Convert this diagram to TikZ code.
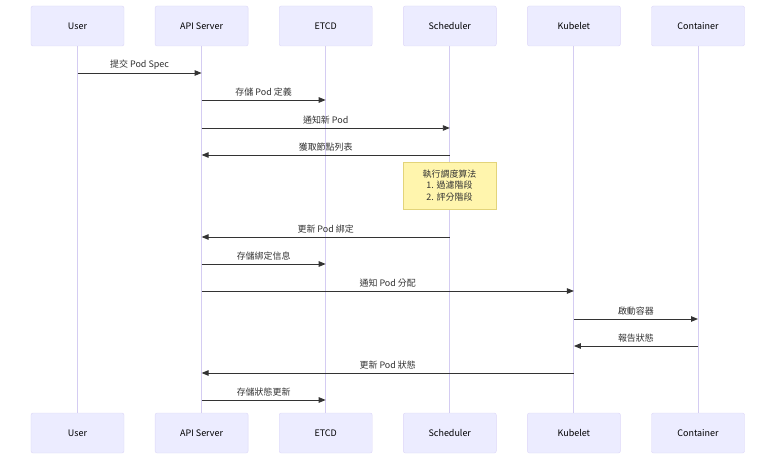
\documentclass[tikz,border=0pt]{standalone}
\usepackage{fontspec}
\setmainfont{Noto Sans CJK TC}
\usetikzlibrary{arrows.meta}

\definecolor{actorfill}{HTML}{ECECFF}
\definecolor{actorline}{HTML}{DCD6F7}
\definecolor{lifeline}{HTML}{D4CCF2}
\definecolor{notefill}{HTML}{FFF5AD}
\definecolor{noteline}{HTML}{E3D47A}
\definecolor{msgcol}{HTML}{333333}

\tikzset{
  actor/.style={draw=actorline, fill=actorfill, rounded corners=2bp,
    minimum width=93bp, minimum height=40bp, font=\fontsize{9}{10}\selectfont},
  lifeline/.style={draw=lifeline, line width=1bp},
  msg/.style={draw=msgcol, line width=0.9bp, -{Triangle[length=7bp,width=5.5bp]}},
  msglabel/.style={font=\fontsize{9}{10}\selectfont, text=msgcol},
  notebox/.style={draw=noteline, fill=notefill, minimum width=93bp, minimum height=47bp,
    align=center, font=\fontsize{9}{11.5}\selectfont, text=msgcol}
}

\begin{document}
\begin{tikzpicture}[x=1bp, y=-1bp]
    \useasboundingbox (0,0) rectangle (784,466);

    % Draw actors top and bottom, with lifelines
    \foreach \name/\txt [count=\i] in {user/User, api/API Server, etcd/ETCD,
        sched/Scheduler, kubelet/Kubelet, ctr/Container} {
        \node[actor] (\name) at ({77.5+124.1*(\i-1)},26) {\txt};
        \node[actor] (\name b) at ({77.5+124.1*(\i-1)},433) {\txt};
        \draw[lifeline] (\name) -- (\name b);
    }

    % Draw the note on the scheduler
    \node[notebox] (algo) at (449.5,185.5) {執行調度算法\\1. 過濾階段\\2. 評分階段};

    % Draw messages
    \foreach \from/\to/\y/\txt in {
        user/api/73/提交 Pod Spec,
        api/etcd/100/存儲 Pod 定義,
        api/sched/128/通知新 Pod,
        sched/api/155/獲取節點列表,
        sched/api/237/更新 Pod 綁定,
        api/etcd/264/存儲綁定信息,
        api/kubelet/291/通知 Pod 分配,
        kubelet/ctr/319/啟動容器,
        ctr/kubelet/346/報告狀態,
        kubelet/api/373/更新 Pod 狀態,
        api/etcd/400/存儲狀態更新} {
        \draw[msg] (\from |- 0,\y) -- (\to |- 0,\y)
            node[msglabel, midway, above=0bp] {\txt};
    }
\end{tikzpicture}
\end{document}
